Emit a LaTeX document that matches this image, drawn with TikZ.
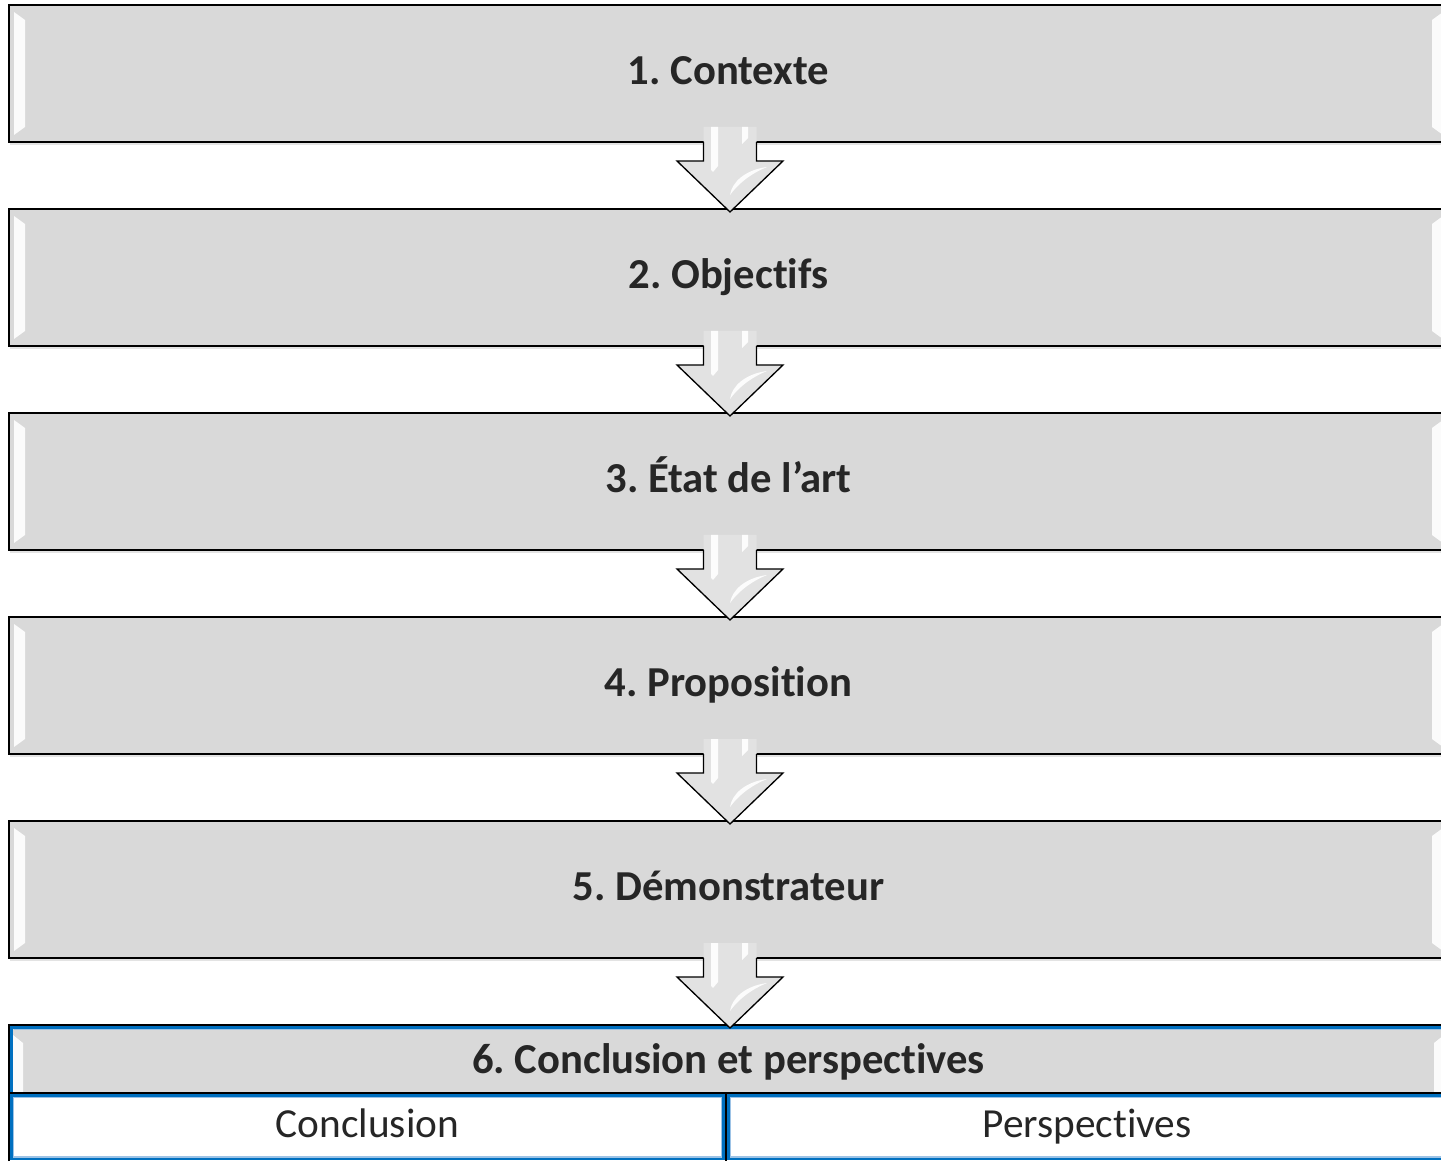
\documentclass[tikz,border=0pt]{standalone}
\usepackage{fontspec}
\setmainfont[Ligatures=NoCommon]{Carlito}
\usetikzlibrary{calc,shadows}
\definecolor{boxgray}{HTML}{D9D9D9}
\definecolor{arrowgray}{HTML}{E2E2E2}
\definecolor{txtgray}{HTML}{262626}
\definecolor{tblblue}{HTML}{0070C0}
\definecolor{tbllight}{HTML}{9DC3E6}
\frenchspacing

\begin{document}
\begin{tikzpicture}[x=0.75pt,y=0.75pt,line join=miter,
  every node/.style={font=\fontsize{31}{37}\selectfont,text=txtgray,
    inner sep=0pt,outer sep=0pt,text height=22pt,text depth=6pt},
  stagebox/.style={rectangle,fill=boxgray,draw=black,line width=1.2pt,
    minimum width=1079.25pt,minimum height=102.75pt,
    font=\fontsize{32}{38}\selectfont\bfseries,
    drop shadow={shadow xshift=0.6pt,shadow yshift=-2.2pt,opacity=0.22}},
  hdrbox/.style={rectangle,fill=boxgray,draw=black,line width=1.2pt,
    minimum width=1079.25pt,minimum height=51pt,
    font=\fontsize{32}{38}\selectfont\bfseries,text height=27pt,text depth=5pt},
  cellbox/.style={rectangle,fill=white,minimum height=51pt},
  bevel/.style={fill=white,opacity=0.9},
  tblline/.style={draw=tblblue,line width=1.8pt},
  tbllite/.style={draw=tbllight,line width=0.8pt},
  arrowline/.style={draw=black,line width=1pt}]
  \useasboundingbox (0,0) rectangle (1441,1161);

  % stages
  \foreach \i/\lab in {1/{1. Contexte},2/{2. Objectifs},3/{3. État de l’art},
      4/{4. Proposition},5/{5. Démonstrateur}}
    \node[stagebox] (b\i) at (728.5,{1087.5-204*(\i-1)}) {\lab};
  \foreach \i in {1,...,5} {
    \fill[bevel] ($(b\i.north west)+(5,-7)$) -- ($(b\i.north west)+(16,-15)$)
      -- ($(b\i.north west)+(16,-122)$) -- ($(b\i.north west)+(5,-130)$) -- cycle;
    \fill[bevel] ($(b\i.north east)+(-5,-7)$) -- ($(b\i.north east)+(-16,-15)$)
      -- ($(b\i.north east)+(-16,-122)$) -- ($(b\i.north east)+(-5,-130)$) -- cycle;
  }

  % last stage as a small table
  \node[hdrbox] (b6) at (728.5,102) {6. Conclusion et perspectives};
  \node[cellbox,minimum width=537.75pt] (concl) at (367.5,34) {Conclusion};
  \node[cellbox,minimum width=541.5pt] (persp) at (1087,34) {Perspectives};
  \fill[bevel] ($(b6.north west)+(4,-10)$) -- ($(b6.north west)+(14,-18)$)
    -- ($(b6.south west)+(14,1)$) -- ($(b6.south west)+(4,1)$) -- cycle;
  \fill[bevel] ($(b6.north east)+(-4,-10)$) -- ($(b6.north east)+(-14,-18)$)
    -- ($(b6.south east)+(-14,1)$) -- ($(b6.south east)+(-4,1)$) -- cycle;
  \draw[tblline] ($(b6.south west)+(2.5,1)$) -- ($(b6.north west)+(2.5,-2.5)$)
    -- ($(b6.north east)+(-2.5,-2.5)$) -- ($(b6.south east)+(-2.5,1)$);
  \draw[tbllite] ($(b6.north west)+(4.5,-4.5)$) -- ($(b6.north east)+(-4.5,-4.5)$);
  \foreach \c in {concl,persp} {
    \draw[tblline] ($(\c.south west)+(2.5,2)$) rectangle ($(\c.north east)+(-2.5,-2.5)$);
    \draw[tbllite] ($(\c.south west)+(4.5,4)$) rectangle ($(\c.north east)+(-4.5,-4.5)$);
  }
  \draw[line width=1.2pt] (concl.south west) -- (concl.north west) -- (persp.north east);
  \draw[line width=1.2pt] (concl.north east) -- (concl.south east);

  % block arrows between the stages
  \foreach \i/\j in {1/2,2/3,3/4,4/5,5/6} {
    \coordinate (s) at ($(b\i.south)+(1.5,0)$);
    \coordinate (t) at ($(b\j.north)+(1.5,-3)$);
    \fill[arrowgray] ($(s)+(-26.5,15)$) -- ($(s)+(-26.5,-19)$) -- ($(s)+(-53,-19)$)
      -- (t) -- ($(s)+(53,-19)$) -- ($(s)+(26.5,-19)$) -- ($(s)+(26.5,15)$) -- cycle;
    \fill[bevel] ($(s)+(-19,15)$) -- ($(s)+(-12,15)$) -- ($(s)+(-12,-24)$)
      -- ($(s)+(-17,-30)$) -- ($(s)+(-19,-28)$) -- cycle;
    \fill[bevel] ($(s)+(12,15)$) -- ($(s)+(18,15)$) -- ($(s)+(18,4)$)
      -- ($(s)+(12,-2)$) -- cycle;
    \fill[bevel] ($(s)+(37,-25)$) .. controls ($(s)+(15,-28)$) and ($(s)+(2,-40)$)
      .. ($(s)+(0,-53)$) .. controls ($(s)+(8,-42)$) and ($(s)+(20,-32)$)
      .. cycle;
    \draw[arrowline] ($(s)+(-26.5,0)$) -- ($(s)+(-26.5,-19)$) -- ($(s)+(-53,-19)$)
      -- (t) -- ($(s)+(53,-19)$) -- ($(s)+(26.5,-19)$) -- ($(s)+(26.5,0)$);
  }
\end{tikzpicture}
\end{document}
